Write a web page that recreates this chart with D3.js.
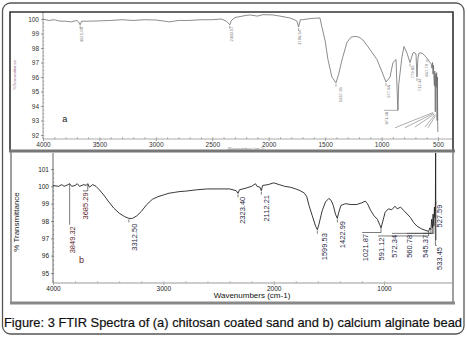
<!DOCTYPE html>
<html>
<head>
<meta charset="utf-8">
<script src="https://cdn.jsdelivr.net/npm/d3@7"></script>
<style>
body { margin: 0; background: #fff; }
svg { display: block; font-family: "Liberation Sans", Arial, sans-serif; }
</style>
</head>
<body>
<svg id="chart"></svg>
<script>
// spectrum (a) chitosan coated sand: wavenumber / %T
const aWave = [4000, 3950, 3900, 3850, 3800, 3750, 3700, 3685, 3671, 3658, 3600, 3500, 3400, 3300, 3200, 3100, 3000, 2920, 2880, 2800, 2700, 2600, 2500, 2420, 2375, 2345, 2330, 2300, 2200, 2166, 2100, 2050, 1962, 1900, 1812, 1767, 1750, 1735, 1720, 1700, 1660, 1600, 1546, 1530, 1500, 1475, 1440, 1404, 1380, 1350, 1306, 1270, 1236, 1200, 1165, 1103, 1040, 996, 961, 925, 899, 872, 862, 855, 848, 819, 801, 775, 748, 722, 713, 695, 686, 678, 668, 642, 620, 598, 571, 560, 553, 548, 544, 540, 536, 532, 528, 524, 520, 516, 512, 508, 505, 502, 500];
const aTrans = [100.0, 99.9, 99.95, 99.85, 99.85, 99.8, 99.9, 99.8, 99.6, 99.85, 99.85, 99.87, 99.9, 99.95, 99.9, 99.95, 99.93, 99.85, 99.8, 99.9, 99.9, 99.95, 99.95, 100.0, 99.85, 99.6, 99.9, 100.1, 100.25, 100.28, 100.2, 100.3, 100.28, 100.2, 100.07, 99.93, 99.85, 99.45, 99.95, 99.95, 100.0, 100.05, 100.07, 99.5, 98.5, 97.2, 96.0, 95.6, 96.2, 97.2, 98.4, 98.75, 98.8, 98.75, 98.55, 97.9, 97.2, 96.35, 95.65, 96.0, 97.0, 97.2, 95.0, 93.7, 95.5, 97.4, 98.1, 97.65, 97.0, 97.65, 97.7, 97.6, 96.0, 97.3, 97.65, 97.65, 97.5, 97.3, 97.0, 96.9, 96.6, 97.0, 96.2, 96.8, 95.9, 95.4, 96.4, 93.6, 96.2, 95.3, 96.3, 93.0, 96.0, 92.3, 92.2];

// spectrum (b) calcium alginate bead
const bWave = [4000, 3950, 3920, 3900, 3870, 3849, 3830, 3800, 3780, 3760, 3720, 3700, 3685, 3670, 3640, 3610, 3580, 3540, 3500, 3450, 3400, 3350, 3312, 3280, 3240, 3200, 3150, 3100, 3050, 3000, 2950, 2900, 2850, 2800, 2700, 2600, 2500, 2400, 2340, 2323, 2310, 2250, 2200, 2165, 2150, 2125, 2112, 2100, 2050, 2000, 1950, 1900, 1850, 1800, 1760, 1720, 1700, 1680, 1650, 1620, 1604, 1590, 1560, 1530, 1500, 1480, 1460, 1440, 1423, 1410, 1390, 1350, 1300, 1250, 1200, 1170, 1150, 1120, 1090, 1060, 1040, 1027, 1010, 990, 960, 930, 900, 880, 850, 820, 790, 760, 730, 700, 660, 620, 595, 585, 575, 568, 561, 555, 548, 543, 538, 534, 532, 530];
const bTrans = [100.05, 100.0, 100.1, 100.0, 100.08, 100.15, 100.0, 100.05, 100.15, 100.0, 100.1, 100.05, 100.15, 99.95, 100.1, 100.0, 99.8, 99.5, 99.15, 98.75, 98.45, 98.25, 98.15, 98.15, 98.3, 98.55, 98.95, 99.25, 99.4, 99.5, 99.6, 99.65, 99.7, 99.72, 99.8, 99.85, 99.85, 99.85, 99.75, 99.6, 99.8, 99.9, 100.0, 100.15, 100.0, 99.95, 99.75, 100.05, 100.1, 100.2, 100.1, 100.0, 99.95, 99.85, 99.75, 99.6, 99.4, 98.9, 98.3, 97.7, 97.5, 97.8, 98.6, 99.1, 99.3, 99.2, 98.9, 98.4, 98.15, 98.5, 98.9, 99.0, 98.95, 98.95, 99.05, 99.15, 99.0, 98.6, 98.3, 98.1, 97.8, 97.6, 98.0, 98.5, 98.7, 98.65, 98.85, 98.7, 98.8, 98.6, 98.4, 98.2, 97.9, 97.7, 97.55, 97.45, 97.4, 97.6, 97.5, 98.1, 97.6, 98.4, 97.7, 98.8, 98.2, 99.1, 102.5, 96.9];

// peak labels: peak position, curve value, label text, label centre (wave) and label top (%T)
const aPeaks = [
    { w: 3671, t: 99.6, text: '3671.00', lw: 3663, lt: 99.45 },
    { w: 2345, t: 99.6, text: '2360.57', lw: 2334, lt: 99.5 },
    { w: 1735, t: 99.45, text: '1706.54', lw: 1723, lt: 99.25 },
    { w: 1404, t: 95.6, text: '1437.35', lw: 1368, lt: 95.3 },
    { w: 961, t: 95.65, text: '977.86', lw: 943, lt: 95.45 },
    { w: 855, t: 93.7, text: '871.48', lw: 952, lt: 93.6, leader: true },
    { w: 748, t: 97.0, text: '779.85', lw: 730, lt: 96.8 },
    { w: 686, t: 96.0, text: '712.34', lw: 668, lt: 95.9 },
    { w: 598, t: 97.3, text: '667.70', lw: 598, lt: 96.9 }
];
// leader lines of the low-wavenumber peaks in (a) whose labels fall outside the plot
const aFan = [
    { w: 544, t: 93.55, lw: 881, lt: 92.5 },
    { w: 538, t: 93.5, lw: 793, lt: 92.5 },
    { w: 532, t: 93.45, lw: 704, lt: 92.55 },
    { w: 526, t: 93.4, lw: 616, lt: 92.55 },
    { w: 520, t: 93.35, lw: 589, lt: 92.5 }
];

const bPeaks = [
    { w: 3849, t: 100.15, text: '3849.32', lw: 3822, lt: 97.7, leader: true },
    { w: 3685, t: 100.15, text: '3685.29', lw: 3703, lt: 99.65, leader: true },
    { w: 3312, t: 98.15, text: '3312.50', lw: 3261, lt: 97.85 },
    { w: 2323, t: 99.6, text: '2323.40', lw: 2279, lt: 99.4 },
    { w: 2112, t: 99.75, text: '2112.21', lw: 2063, lt: 99.5 },
    { w: 1604, t: 97.5, text: '1599.53', lw: 1541, lt: 97.3 },
    { w: 1423, t: 98.15, text: '1422.99', lw: 1378, lt: 98.0 },
    { w: 1027, t: 97.6, text: '1021.87', lw: 1171, lt: 97.25, leader: true },
    { w: 595, t: 97.4, text: '591.12', lw: 1027, lt: 97.05, leader: true },
    { w: 575, t: 97.5, text: '572.34', lw: 901, lt: 97.2, leader: true },
    { w: 561, t: 97.6, text: '560.78', lw: 766, lt: 97.2, leader: true },
    { w: 548, t: 97.7, text: '545.37', lw: 622, lt: 97.2, leader: true },
    { w: 534, t: 98.2, text: '533.45', lw: 495, lt: 96.5, leader: true },
    { w: 532, t: 99.1, text: '527.59', lw: 495, lt: 98.95, leader: true }
];

const aTicksX = [4000, 3500, 3000, 2500, 2000, 1500, 1000, 500];
const aTicksY = [92, 93, 94, 95, 96, 97, 98, 99, 100];
const bTicksX = [4000, 3000, 2000, 1000];
const bTicksY = [95, 96, 97, 98, 99, 100, 101];

const caption = 'Figure: 3 FTIR Spectra of (a) chitosan coated sand and b) calcium alginate bead';

const svg = d3.select('#chart').attr('width', 467).attr('height', 339);

// outer rounded border
svg.append('rect')
    .attr('x', 2.5).attr('y', 3).attr('width', 461.5).attr('height', 331)
    .attr('rx', 8)
    .attr('fill', 'none').attr('stroke', '#555').attr('stroke-width', 1.3);

function drawPanel(cfg) {
    const g = svg.append('g');
    const x = d3.scaleLinear().domain([4000, cfg.x1]).range([cfg.left, cfg.x1px]);
    const y = d3.scaleLinear().domain(cfg.yDomain).range(cfg.yRange);

    const clipId = 'clip-' + cfg.name;
    g.append('clipPath').attr('id', clipId)
        .append('rect')
        .attr('x', cfg.left).attr('y', cfg.top)
        .attr('width', cfg.right - cfg.left).attr('height', cfg.axisY - cfg.top);

    // axes
    const xaxis = d3.axisBottom(x).tickValues(cfg.ticksX).tickSize(2).tickPadding(1).tickFormat(d3.format('d'));
    const xg = g.append('g').attr('transform', `translate(0,${cfg.axisY})`).call(xaxis);
    xg.select('.domain').remove();
    xg.selectAll('text').attr('font-size', cfg.tickFont).attr('fill', cfg.tickColor).attr('font-family', 'Liberation Sans, Arial');
    xg.selectAll('line').attr('stroke', '#999');

    const xminor = d3.axisBottom(x).tickValues(d3.range(4000, cfg.x1 - 1, -cfg.minorX)).tickSize(-1.5).tickFormat('');
    const xm = g.append('g').attr('transform', `translate(0,${cfg.axisY})`).call(xminor);
    xm.select('.domain').remove();
    xm.selectAll('line').attr('stroke', '#888');

    g.append('line')
        .attr('x1', cfg.left).attr('x2', cfg.right)
        .attr('y1', cfg.axisY).attr('y2', cfg.axisY)
        .attr('stroke', cfg.xAxisColor).attr('stroke-width', cfg.xAxisWidth);

    const yaxis = d3.axisLeft(y).tickValues(cfg.ticksY).tickSize(2).tickPadding(2).tickFormat(d3.format('d'));
    const yg = g.append('g').attr('transform', `translate(${cfg.left},0)`).call(yaxis);
    yg.select('.domain').remove();
    yg.selectAll('text').attr('font-size', cfg.tickFont).attr('fill', cfg.tickColor).attr('font-family', 'Liberation Sans, Arial');
    yg.selectAll('line').attr('stroke', '#999');

    const yminor = d3.axisRight(y).tickValues(d3.range(cfg.yDomain[1], cfg.yDomain[0] + 0.01, 0.25)).tickSize(1.2).tickFormat('');
    const ym = g.append('g').attr('transform', `translate(${cfg.left},0)`).call(yminor);
    ym.select('.domain').remove();
    ym.selectAll('line').attr('stroke', '#999');

    g.append('line')
        .attr('x1', cfg.left).attr('x2', cfg.left)
        .attr('y1', cfg.top).attr('y2', cfg.axisY)
        .attr('stroke', cfg.yAxisColor).attr('stroke-width', 1);

    // spectrum
    const line = d3.line().x((d, i) => x(cfg.wave[i])).y((d, i) => y(cfg.trans[i]));
    g.append('path')
        .datum(cfg.wave)
        .attr('clip-path', `url(#${clipId})`)
        .attr('d', line)
        .attr('fill', 'none')
        .attr('stroke', cfg.lineColor)
        .attr('stroke-width', cfg.lineWidth)
        .attr('stroke-linejoin', 'round');

    // fan leader lines
    g.selectAll('.fan')
        .data(cfg.fan || [])
        .join('line')
        .attr('class', 'fan')
        .attr('x1', d => x(d.w)).attr('y1', d => y(d.t))
        .attr('x2', d => x(d.lw)).attr('y2', d => y(d.lt))
        .attr('stroke', '#777').attr('stroke-width', 0.6);

    // peak markers / leaders
    g.selectAll('.lead')
        .data(cfg.peaks)
        .join('path')
        .attr('class', 'lead')
        .attr('d', d => {
            const px = x(d.w), py = y(d.t), ly = y(d.lt) - 1.5;
            if (d.leader) return `M${px},${py}V${ly}H${x(d.lw) - 3}`;
            return `M${px},${py + 1}V${py + 4}`;
        })
        .attr('fill', 'none')
        .attr('stroke', cfg.leadColor)
        .attr('stroke-width', 0.7);

    g.selectAll('.plabel')
        .data(cfg.peaks)
        .join('text')
        .attr('class', 'plabel')
        .attr('transform', d => `translate(${x(d.lw)},${y(d.lt)}) rotate(-90)`)
        .attr('text-anchor', 'end')
        .attr('dominant-baseline', 'central')
        .attr('font-size', cfg.labelFont)
        .attr('fill', (d, i) => cfg.labelColor(i))
        .text(d => d.text);

    // panel letter
    g.append('text')
        .attr('x', x(cfg.letterPos[0])).attr('y', y(cfg.letterPos[1]))
        .attr('font-size', 9).attr('fill', cfg.letterColor)
        .text(cfg.name);

    // axis titles
    g.append('text')
        .attr('transform', `translate(${cfg.yTitle[0]},${cfg.yTitle[1]}) rotate(-90)`)
        .attr('text-anchor', 'middle')
        .attr('font-size', cfg.yTitle[2])
        .attr('fill', cfg.yTitle[3])
        .text(cfg.yTitleText);

    g.append('text')
        .attr('x', cfg.xTitle[0]).attr('y', cfg.xTitle[1])
        .attr('text-anchor', 'middle')
        .attr('font-size', cfg.xTitle[2])
        .attr('fill', cfg.xTitle[3])
        .text('Wavenumbers (cm-1)');
}

drawPanel({
    name: 'a', wave: aWave, trans: aTrans, peaks: aPeaks, fan: aFan,
    ticksX: aTicksX, ticksY: aTicksY,
    x1: 500, x1px: 438, left: 43, right: 452, top: 12, axisY: 139,
    yDomain: [100, 92], yRange: [19, 135], minorX: 100,
    tickFont: 6.5, tickColor: '#333', xAxisColor: '#aaa', xAxisWidth: 1, yAxisColor: '#999',
    lineColor: '#666', lineWidth: 0.75, leadColor: '#888', labelFont: 4.2,
    labelColor: () => '#777',
    letterPos: [3830, 92.9], letterColor: '#111',
    yTitle: [16, 75, 4.2, '#a06a90'], yTitleText: '%Transmittance',
    xTitle: [246, 149.6, 3.8, '#888']
});

drawPanel({
    name: 'b', wave: bWave, trans: bTrans, peaks: bPeaks,
    ticksX: bTicksX, ticksY: bTicksY,
    x1: 1000, x1px: 384, left: 53, right: 452, top: 153, axisY: 283,
    yDomain: [101, 95], yRange: [169, 273], minorX: 200,
    tickFont: 6.5, tickColor: '#222', xAxisColor: '#bbb', xAxisWidth: 1.5, yAxisColor: '#666',
    lineColor: '#222', lineWidth: 0.9, leadColor: '#444', labelFont: 7.5,
    labelColor: i => (i < 2 ? '#5a1e2a' : '#2a2a45'),
    letterPos: [3765, 95.6], letterColor: '#5a1e2a',
    yTitle: [19, 222, 8, '#222'], yTitleText: '% Transmittance',
    xTitle: [252, 298, 8, '#111']
});

// panel frames
svg.append('path')
    .attr('d', 'M10,151V12H453V151')
    .attr('fill', 'none').attr('stroke', '#333').attr('stroke-width', 1.6);
svg.append('line')
    .attr('x1', 9).attr('x2', 455).attr('y1', 151).attr('y2', 151)
    .attr('stroke', '#777').attr('stroke-width', 3);
svg.append('path')
    .attr('d', 'M11,152V303H453V152')
    .attr('fill', 'none').attr('stroke', '#888').attr('stroke-width', 1.6);
svg.append('line')
    .attr('x1', 10).attr('x2', 455).attr('y1', 303).attr('y2', 303)
    .attr('stroke', '#888').attr('stroke-width', 3);

// caption
svg.append('text')
    .attr('x', 4).attr('y', 327)
    .attr('font-size', 13)
    .attr('fill', '#111')
    .attr('stroke', '#111')
    .attr('stroke-width', 0.2)
    .attr('textLength', 458)
    .attr('lengthAdjust', 'spacingAndGlyphs')
    .text(caption);
</script>
</body>
</html>
